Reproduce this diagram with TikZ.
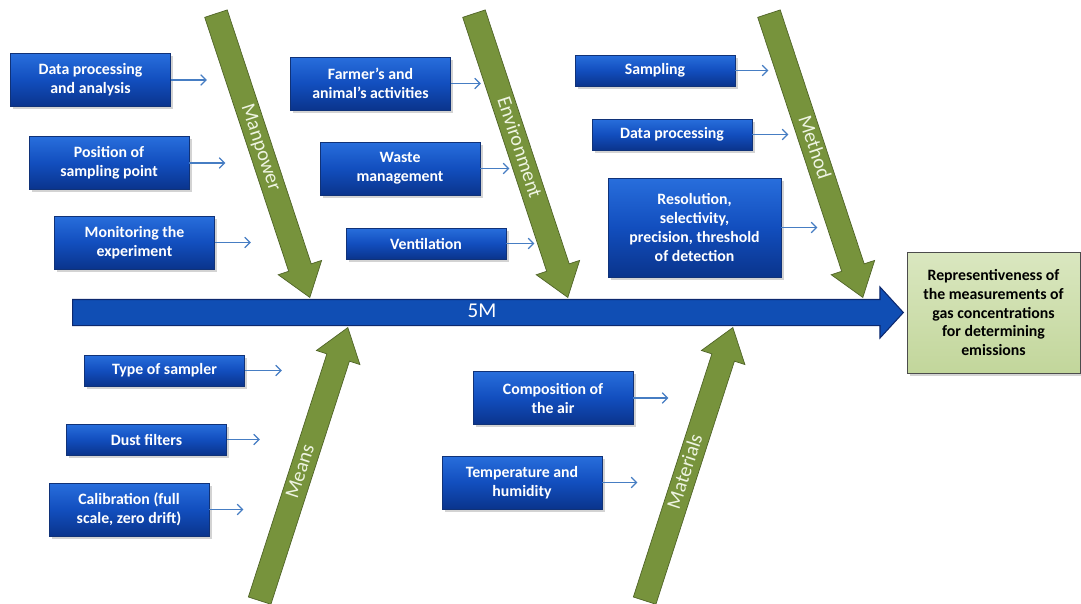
\documentclass[tikz,border=0pt]{standalone}
\usepackage{fontspec}
\setmainfont{Carlito}
\usepackage{tikz}
\usetikzlibrary{shapes.arrows, arrows.meta, shadows, positioning}
\definecolor{boxtop}{RGB}{40, 110, 220}
\definecolor{boxmid}{RGB}{18, 78, 190}
\definecolor{boxbot}{RGB}{10, 52, 140}
\definecolor{boxedge}{RGB}{16, 50, 120}
\definecolor{spineblue}{RGB}{16, 78, 180}
\definecolor{spineedge}{RGB}{12, 40, 110}
\definecolor{bonegreen}{RGB}{119, 147, 60}
\definecolor{boneedge}{RGB}{80, 100, 40}
\definecolor{bonetext}{RGB}{238, 244, 225}
\definecolor{effecttop}{RGB}{218, 231, 192}
\definecolor{effectbot}{RGB}{194, 214, 155}
\definecolor{linkblue}{RGB}{70, 125, 195}

\tikzset{
  causebox/.style={rectangle, top color=boxtop, bottom color=boxbot, middle color=boxmid,
    draw=boxedge, thin, text=white, align=center, minimum width=3.2cm, minimum height=1.06cm,
    inner sep=2pt, font=\fontsize{9}{10.8}\selectfont\bfseries,
    drop shadow={shadow xshift=1.5pt, shadow yshift=-1.5pt, opacity=0.35}},
  bonearrow/.style={single arrow, fill=bonegreen, draw=boneedge, thin, text=bonetext,
    inner sep=0pt, text height=0.33cm, text depth=0.13cm,
    single arrow head extend=0.22cm, single arrow tip angle=72,
    font=\fontsize{11.5}{12}\selectfont},
  spinearrow/.style={single arrow, fill=spineblue, draw=spineedge, semithick, text=white,
    inner sep=0pt, text height=0.35cm, text depth=0.15cm,
    single arrow head extend=0.25cm, single arrow tip angle=95,
    font=\fontsize{12}{12}\selectfont},
  effectbox/.style={rectangle, top color=effecttop, bottom color=effectbot,
    draw=black!70, thin, align=center, minimum width=3.46cm, minimum height=2.42cm,
    inner sep=2pt, font=\fontsize{9}{10.8}\selectfont\bfseries,
    drop shadow={shadow xshift=1.5pt, shadow yshift=-1.5pt, opacity=0.35}},
  link/.style={draw=linkblue, line width=0.7pt, -{Straight Barb[length=3pt, width=6pt]}}
}

\begin{document}
\begin{tikzpicture}[x=0.02cm, y=-0.02cm]
  \useasboundingbox (0,0) rectangle (1081,603);

  % aretes (5M)
  \node[bonearrow, rotate=-71.7, minimum height=5.98cm, anchor=tip] (manpower) at (310,298) {Manpower};
  \node[bonearrow, rotate=-71.7, minimum height=5.98cm, anchor=tip] (environment) at (568,298) {Environment};
  \node[bonearrow, rotate=-71.7, minimum height=5.98cm, anchor=tip] (method) at (863,298) {Method};
  \node[bonearrow, rotate=72.1, minimum height=5.74cm, anchor=tip] (means) at (348,327) {Means};
  \node[bonearrow, rotate=72.1, minimum height=5.74cm, anchor=tip] (materials) at (733,327) {Materials};

  % arete centrale
  \node[spinearrow, minimum height=16.62cm, anchor=tail] (spine) at (72,312.5) {5M};

  % effet
  \node[effectbox] (effect) at (993.5,312.5)
    {Representiveness of\\the measurements of\\gas concentrations\\for determining\\emissions};

  % Manpower
  \node[causebox] (dpa) at (90.5,80) {Data processing\\and analysis};
  \node[causebox] (pos) at (109,163) {Position of\\sampling point};
  \node[causebox] (mon) at (134.5,242.5) {Monitoring the\\experiment};
  \draw[link] (dpa.east) -- ++(36,0);
  \draw[link] (pos.east) -- ++(36,0);
  \draw[link] (mon.east) -- ++(36,0);

  % Environment
  \node[causebox] (farm) at (370.5,83.5) {Farmer's and\\animal's activities};
  \node[causebox] (waste) at (400,168.5) {Waste\\management};
  \node[causebox, minimum height=0.62cm] (vent) at (426,243.5) {Ventilation};
  \draw[link] (farm.east) -- ++(30,0);
  \draw[link] (waste.east) -- ++(29,0);
  \draw[link] (vent.east) -- ++(28,0);

  % Method
  \node[causebox, minimum height=0.62cm] (samp) at (655,70.5) {Sampling};
  \node[causebox, minimum height=0.62cm] (dproc) at (672,134.5) {Data processing};
  \node[causebox, minimum width=3.46cm, minimum height=1.98cm] (resol) at (694.5,227.5)
    {Resolution,\\selectivity,\\precision, threshold\\of detection};
  \draw[link] (samp.east) -- ++(33,0);
  \draw[link] (dproc.east) -- ++(36,0);
  \draw[link] (resol.east) -- ++(36,0);

  % Means
  \node[causebox, minimum height=0.62cm] (type) at (164.5,370.5) {Type of sampler};
  \node[causebox, minimum height=0.62cm] (dust) at (146.5,439.5) {Dust filters};
  \node[causebox] (calib) at (129,509.5) {Calibration (full\\scale, zero drift)};
  \draw[link] (type.east) -- ++(37,0);
  \draw[link] (dust.east) -- ++(33,0);
  \draw[link] (calib.east) -- ++(34,0);

  % Materials
  \node[causebox] (comp) at (553,398) {Composition of\\the air};
  \node[causebox] (temp) at (522,482.5) {Temperature and\\humidity};
  \draw[link] (comp.east) -- ++(35,0);
  \draw[link] (temp.east) -- ++(35,0);
\end{tikzpicture}
\end{document}
